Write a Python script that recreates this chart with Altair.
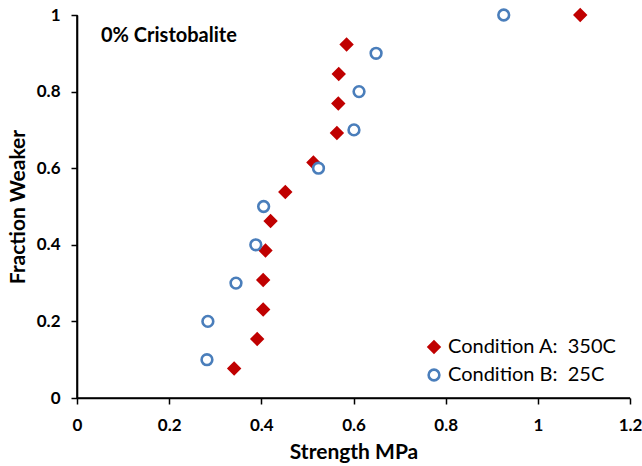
import altair as alt
import pandas as pd

# Condition A: 350C (red diamonds), 13 specimens
a_strength = [0.341, 0.391, 0.404, 0.404, 0.409, 0.420, 0.452, 0.513, 0.564, 0.567, 0.568, 0.585, 1.092]
a_fraction = [0.077, 0.154, 0.231, 0.308, 0.385, 0.462, 0.538, 0.615, 0.692, 0.769, 0.846, 0.923, 1.0]
# Condition B: 25C (blue open circles), 10 specimens
b_strength = [0.282, 0.284, 0.345, 0.388, 0.405, 0.524, 0.601, 0.612, 0.649, 0.926]
b_fraction = [0.1, 0.2, 0.3, 0.4, 0.5, 0.6, 0.7, 0.8, 0.9, 1.0]

label_a = "Condition A:\u00a0 350C"
label_b = "Condition B:\u00a0 25C"
x_ticks = [0, 0.2, 0.4, 0.6, 0.8, 1.0, 1.2]
y_ticks = [0, 0.2, 0.4, 0.6, 0.8, 1.0]
x_range = [0, 1.2]
y_range = [0, 1]

df = pd.DataFrame({
    "strength": a_strength + b_strength,
    "fraction": a_fraction + b_fraction,
    "cond": [label_a] * len(a_strength) + [label_b] * len(b_strength),
})

FONT = "Lato"
domain = [label_a, label_b]
W, H = 553, 383

x_scale = alt.Scale(domain=x_range, nice=False)
y_scale = alt.Scale(domain=y_range, nice=False)

points = alt.Chart(df).mark_point(strokeWidth=2.6, size=115, opacity=1).encode(
    x=alt.X("strength:Q", title="Strength MPa", scale=x_scale,
            axis=alt.Axis(values=x_ticks, format="~g", domain=True, ticks=True,
                          domainColor="#000000", domainWidth=1.6,
                          tickColor="#000000", tickWidth=1.5, tickSize=6,
                          labelFlush=False, labelPadding=13, titlePadding=8)),
    y=alt.Y("fraction:Q", title="Fraction Weaker", scale=y_scale,
            axis=alt.Axis(values=y_ticks, format="~g", domain=True, ticks=True,
                          domainColor="#000000", domainWidth=1.6,
                          tickColor="#000000", tickWidth=1.5, tickSize=6,
                          labelFlush=False, labelPadding=11, titlePadding=8)),
    shape=alt.Shape("cond:N", title=None,
                    scale=alt.Scale(domain=domain, range=["diamond", "circle"]),
                    legend=alt.Legend(orient="none", legendX=347, legendY=322,
                                      labelFont=FONT, labelFontSize=20, labelColor="#000000",
                                      labelLimit=400,
                                      symbolSize=115, symbolStrokeWidth=2.6,
                                      rowPadding=6, labelOffset=4, padding=0)),
    stroke=alt.Stroke("cond:N", title=None,
                      scale=alt.Scale(domain=domain, range=["#C00000", "#4A7EBB"])),
    fill=alt.Fill("cond:N", title=None,
                  scale=alt.Scale(domain=domain, range=["#C00000", "#FFFFFF"])),
)

# axis lines also drawn as data lines along the scale domain
x_axis_line = alt.Chart(pd.DataFrame({"x": x_range, "y": [0, 0]})).mark_line(
    color="#000000", strokeWidth=1.6, opacity=1).encode(
    x=alt.X("x:Q", scale=x_scale), y=alt.Y("y:Q", scale=y_scale))
y_axis_line = alt.Chart(pd.DataFrame({"x": [0, 0], "y": y_range})).mark_line(
    color="#000000", strokeWidth=1.6, opacity=1).encode(
    x=alt.X("x:Q", scale=x_scale), y=alt.Y("y:Q", scale=y_scale))

title_text = alt.Chart(pd.DataFrame({"t": ["0% Cristobalite"]})).mark_text(
    align="left", baseline="middle", fontSize=20, fontWeight="bold", font=FONT, color="#000000"
).encode(x=alt.value(24), y=alt.value(21), text="t:N")

chart = alt.layer(points, title_text, x_axis_line, y_axis_line).properties(
    width=W, height=H,
    autosize=alt.AutoSizeParams(type="none"),
    padding={"left": 77, "top": 15, "right": 12, "bottom": 68},
    background="#FFFFFF",
).configure_view(strokeWidth=0).configure_axis(
    grid=False,
    labelFont=FONT, labelFontSize=17, labelFontWeight="bold", labelColor="#000000",
    titleFont=FONT, titleFontSize=21, titleFontWeight="bold", titleColor="#000000",
)

chart.save("out.html", embed_options={"renderer": "svg", "actions": False})
